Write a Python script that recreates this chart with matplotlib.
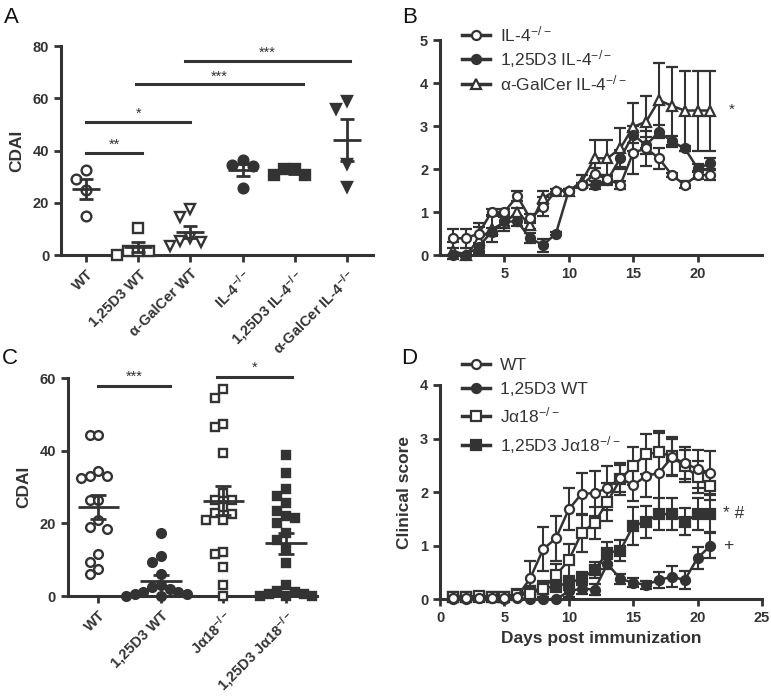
import numpy as np
import matplotlib
matplotlib.use('Agg')
import matplotlib.pyplot as plt
from matplotlib.lines import Line2D

plt.rcParams['font.family'] = 'Liberation Sans'
plt.rcParams['font.weight'] = 'bold'
plt.rcParams['axes.labelweight'] = 'bold'
plt.rcParams['mathtext.default'] = 'regular'
INK = '#333333'

# ---- panel A: CDAI per group ----
a_groups = ['WT', '1,25D3 WT', 'α-GalCer WT', 'IL-4$^{-/-}$',
            '1,25D3 IL-4$^{-/-}$', 'α-GalCer IL-4$^{-/-}$']
a_values = [
    [32.5, 29.0, 25.0, 15.0],
    [10.5, 1.5, 1.5, 1.5, 0.0],
    [17.5, 14.5, 6.5, 5.5, 5.0, 3.5],
    [34.5, 34.0, 36.3, 25.5],
    [33.0, 33.0, 30.5, 30.5],
    [56.0, 59.0, 35.0, 26.0],
]
a_markers = ['o', 's', 'v', 'o', 's', 'v']
a_filled = [False, False, False, True, True, True]
# (group from, group to, height, label)
a_sig = [(0, 1.07, 39.2, '**'), (0, 2, 51, '*'), (0.95, 4.15, 65.3, '***'),
         (1.9, 5.05, 74.4, '***')]

# ---- panel B: IL-4 time course ----
b_days = [1, 2, 3, 4, 5, 6, 7, 8, 9, 10, 11, 12, 13, 14, 15, 16, 17, 18, 19, 20, 21]
il4_mean = [0.39, 0.39, 0.5, 1.0, 1.0, 1.37, 0.85, 1.12, 1.5, 1.5, 1.63, 1.88, 1.77,
            1.63, 2.38, 2.48, 2.25, 1.86, 1.63, 1.86, 1.86]
il4_sem = [0.22, 0.22, 0.25, 0.08, 0.08, 0.12, 0.1, 0.22, 0.03, 0.03, 0.05, 0.15, 0.1,
           0.1, 0.5, 0.4, 0.25, 0.05, 0.08, 0.1, 0.12]
d3il4_mean = [0.0, 0.0, 0.19, 0.54, 0.78, 0.78, 0.39, 0.23, 0.5, 1.5, 1.63, 1.63, 1.74,
              2.25, 2.8, 2.55, 2.87, 2.64, 2.48, 2.02, 2.13]
d3il4_sem = [0.0, 0.0, 0.1, 0.1, 0.1, 0.1, 0.12, 0.15, 0.03, 0.03, 0.05, 0.1, 0.12,
             0.2, 0.2, 0.2, 0.15, 0.12, 0.05, 0.1, 0.12]
galil4_mean = [0.1, 0.0, 0.35, 0.6, 0.75, 1.0, 0.7, 1.33, 1.5, 1.5, 1.7, 2.25, 2.25,
               2.48, 2.98, 3.1, 3.6, 3.47, 3.36, 3.36, 3.36]
galil4_sem = [0.2, 0.05, 0.3, 0.3, 0.2, 0.1, 0.1, 0.15, 0.03, 0.03, 0.15, 0.42, 0.42,
              0.47, 0.55, 0.6, 0.86, 0.9, 0.93, 0.93, 0.93]

# ---- panel C: CDAI, Ja18 ----
c_groups = ['WT', '1,25D3 WT', 'Jα18$^{-/-}$', '1,25D3 Jα18$^{-/-}$']
c_values = [
    [44.5, 44.5, 34.5, 33.0, 33.0, 32.5, 26.5, 26.5, 21.0, 19.0, 18.5, 11.5, 9.5, 7.5, 6.0],
    [17.5, 11.0, 9.5, 6.0, 3.0, 2.5, 2.0, 1.0, 1.0, 0.5, 0.5, 0.0, 0.0],
    [57.0, 54.5, 47.5, 46.5, 39.5, 28.5, 26.5, 26.5, 24.5, 23.0, 22.5, 21.0, 21.0,
     12.0, 11.5, 8.0, 3.0, 0.0],
    [39.0, 34.0, 29.5, 27.5, 25.5, 23.5, 22.0, 21.5, 20.0, 17.5, 15.5, 13.0, 9.0, 3.0,
     1.5, 1.0, 0.5, 0.5, 0.0, 0.0, 0.0],
]
c_markers = ['o', 'o', 's', 's']
c_filled = [False, True, False, True]
c_sig = [(0, 1.15, 58, '***'), (1.9, 3.1, 60.5, '*')]

# ---- panel D: clinical score ----
d_days = [1, 2, 3, 4, 5, 6, 7, 8, 9, 10, 11, 12, 13, 14, 15, 16, 17, 18, 19, 20, 21]
wt_mean = [0.02, 0.02, 0.03, 0.02, 0.02, 0.05, 0.39, 0.93, 1.14, 1.68, 1.97, 1.98, 2.08,
           2.26, 2.13, 2.3, 2.36, 2.65, 2.54, 2.43, 2.36]
wt_sem = [0.02, 0.02, 0.03, 0.02, 0.02, 0.05, 0.33, 0.41, 0.42, 0.39, 0.39, 0.42, 0.41,
          0.25, 0.3, 0.4, 0.75, 0.35, 0.3, 0.35, 0.4]
d3wt_mean = [0.0, 0.0, 0.02, 0.02, 0.0, 0.02, 0.0, 0.0, 0.0, 0.15, 0.2, 0.18, 0.66,
             0.38, 0.31, 0.27, 0.36, 0.42, 0.36, 0.77, 1.0]
d3wt_sem = [0.0, 0.0, 0.0, 0.0, 0.05, 0.0, 0.0, 0.0, 0.0, 0.1, 0.1, 0.1, 0.1, 0.1,
            0.08, 0.08, 0.15, 0.2, 0.17, 0.2, 0.23]
ja_mean = [0.05, 0.05, 0.06, 0.05, 0.05, 0.08, 0.1, 0.2, 0.45, 0.73, 1.24, 1.43, 1.82,
           2.24, 2.49, 2.71, 2.74, 2.67, 2.48, 2.29, 2.11]
ja_sem = [0.02, 0.02, 0.02, 0.02, 0.02, 0.05, 0.1, 0.15, 0.2, 0.3, 0.35, 0.3, 0.35,
          0.3, 0.35, 0.38, 0.4, 0.35, 0.3, 0.3, 0.25]
d3ja_mean = [0.05, 0.05, 0.05, 0.05, 0.05, 0.1, 0.15, 0.2, 0.25, 0.3, 0.39, 0.55, 0.87,
             0.91, 1.37, 1.45, 1.59, 1.59, 1.45, 1.59, 1.6]
d3ja_sem = [0.02, 0.02, 0.02, 0.02, 0.02, 0.05, 0.1, 0.1, 0.12, 0.12, 0.12, 0.15, 0.2,
            0.2, 0.35, 0.3, 0.3, 0.3, 0.25, 0.3, 0.35]


def style_axes(ax):
    for s in ['top', 'right']:
        ax.spines[s].set_visible(False)
    for s in ['left', 'bottom']:
        ax.spines[s].set_linewidth(2.2)
        ax.spines[s].set_color(INK)
    ax.tick_params(direction='out', length=5, width=2, color=INK, labelcolor=INK,
                   labelsize=10.5)


def swarm(vals, dx, dy):
    # put a point beside its neighbours when the values are too close
    offs = np.zeros(len(vals))
    placed = []
    cands = [0] + [s * j for j in range(1, 12) for s in (-1, 1)]
    for i in np.argsort(vals, kind='stable')[::-1]:
        for c in cands:
            x = c * dx
            if all(not (abs(x - px) < dx * 0.99 and abs(vals[i] - py) < dy) for px, py in placed):
                break
        placed.append((x, vals[i]))
        offs[i] = x
    return offs


def dot_plot(ax, groups, values, markers, filled, ms, dx, dy, mean_w, cap):
    for i, vals in enumerate(values):
        vals = np.array(vals)
        xs = i + swarm(vals, dx, dy)
        ax.plot(xs, vals, ls='none', marker=markers[i], ms=ms, mew=1.7, mec=INK,
                mfc=INK if filled[i] else 'white', clip_on=False, zorder=3)
        m = vals.mean()
        sem = vals.std(ddof=1) / np.sqrt(len(vals))
        ax.hlines(m, i - mean_w, i + mean_w, color=INK, lw=2, zorder=4)
        ax.errorbar(i, m, yerr=sem, color=INK, lw=2, capsize=cap, capthick=2, zorder=4)
    ax.set_xticks(range(len(groups)))
    ax.set_xticklabels(groups, rotation=45, ha='right', rotation_mode='anchor')


def sig_bars(ax, sigs):
    for x0, x1, y, lab in sigs:
        ax.plot([x0, x1], [y, y], color=INK, lw=2.2, clip_on=False)
        ax.text((x0 + x1) / 2, y + 0.4, lab, ha='center', va='bottom', fontsize=10.5,
                color=INK, fontweight='normal')


def time_course(ax, days, series):
    handles = []
    for mean, sem, mk, filled, label in series:
        ax.errorbar(days, mean, yerr=sem, color=INK, lw=1.8, elinewidth=1.5,
                    capsize=4, capthick=1.5, marker=mk, ms=6.5, mew=1.6, mec=INK,
                    mfc=INK if filled else 'white', clip_on=False, zorder=3)
        handles.append(Line2D([], [], color=INK, lw=2.5, marker=mk, ms=6.5, mew=1.6,
                              mec=INK, mfc=INK if filled else 'white', label=label))
    return handles


fig = plt.figure(figsize=(7.71, 6.97), dpi=100)
bold = dict(fontsize=12.5, color=INK, family='Liberation Sans', fontweight='bold')

# A
axA = fig.add_axes([0.0791, 0.6341, 0.4047, 0.2999])
dot_plot(axA, a_groups, a_values, a_markers, a_filled, 7, 0.2, 4.5, 0.27, 5)
sig_bars(axA, a_sig)
axA.set_xlim(-0.48, 5.5)
axA.set_ylim(0, 80)
axA.set_yticks([0, 20, 40, 60, 80])
axA.set_ylabel('CDAI', labelpad=6, **bold)
style_axes(axA)

# B
axB = fig.add_axes([0.5707, 0.6341, 0.4176, 0.3085])
hB = time_course(axB, b_days, [
    (galil4_mean, galil4_sem, '^', False, 'α-GalCer IL-4$^{-/-}$'),
    (d3il4_mean, d3il4_sem, 'o', True, '1,25D3 IL-4$^{-/-}$'),
    (il4_mean, il4_sem, 'o', False, 'IL-4$^{-/-}$'),
])
axB.set_xlim(0, 25)
axB.set_ylim(0, 5)
axB.set_xticks([5, 10, 15, 20])
axB.set_yticks([0, 1, 2, 3, 4, 5])
axB.text(22.4, 3.37, '*', fontsize=11, color=INK, va='center', fontweight='normal')
axB.legend(handles=hB[::-1], loc='upper left', bbox_to_anchor=(0.02, 1.145),
           frameon=False, prop={'size': 12.5, 'weight': 'normal'}, handlelength=1.6,
           labelspacing=0.2, handletextpad=0.6, labelcolor=INK)
style_axes(axB)

# C
axC = fig.add_axes([0.0878, 0.1449, 0.3230, 0.3123])
dot_plot(axC, c_groups, c_values, c_markers, c_filled, 6.3, 0.14, 3.0, 0.33, 6)
sig_bars(axC, c_sig)
axC.set_xlim(-0.49, 3.49)
axC.set_ylim(0, 60)
axC.set_yticks([0, 20, 40, 60])
axC.set_ylabel('CDAI', labelpad=6, **bold)
style_axes(axC)

# D
axD = fig.add_axes([0.5707, 0.1402, 0.4176, 0.3075])
hD = time_course(axD, d_days, [
    (d3wt_mean, d3wt_sem, 'o', True, '1,25D3 WT'),
    (d3ja_mean, d3ja_sem, 's', True, '1,25D3 Jα18$^{-/-}$'),
    (ja_mean, ja_sem, 's', False, 'Jα18$^{-/-}$'),
    (wt_mean, wt_sem, 'o', False, 'WT'),
])
axD.set_xlim(0, 25)
axD.set_ylim(0, 4)
axD.set_xticks([0, 5, 10, 15, 20, 25])
axD.set_yticks([0, 1, 2, 3, 4])
axD.set_xlabel('Days post immunization', **bold)
axD.set_ylabel('Clinical score', labelpad=6, **bold)
axD.text(22.0, 1.6, '* #', fontsize=12.5, color=INK, va='center', fontweight='normal')
axD.text(22.0, 1.0, '+', fontsize=12.5, color=INK, va='center', fontweight='normal')
axD.legend(handles=[hD[3], hD[0], hD[2], hD[1]], loc='upper left',
           bbox_to_anchor=(0.02, 1.2), frameon=False,
           prop={'size': 12.5, 'weight': 'normal'}, handlelength=1.6,
           labelspacing=0.5, handletextpad=0.6, labelcolor=INK)
style_axes(axD)

for lab, x, y in [('A', 0.005, 0.99), ('B', 0.522, 0.99), ('C', 0.003, 0.5),
                  ('D', 0.52, 0.5)]:
    fig.text(x, y, lab, fontsize=16, color='#111111', va='top', fontweight='normal')

# make the tick labels bold once they exist
fig.canvas.draw()
for ax in fig.axes:
    for lab in ax.get_xticklabels() + ax.get_yticklabels():
        lab.set_family('Liberation Sans')
        lab.set_fontweight('bold')

fig.savefig('out.png', dpi=100)
